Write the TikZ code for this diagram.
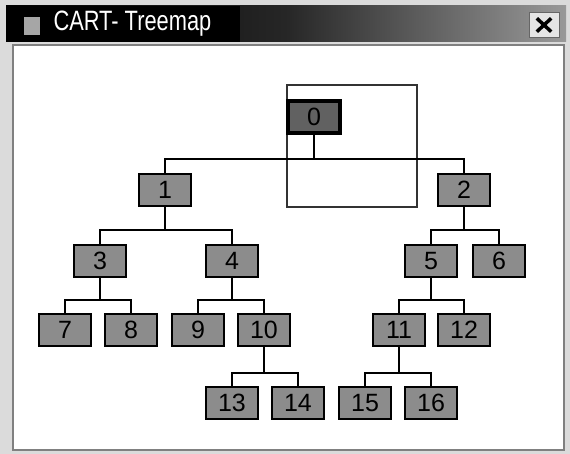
\documentclass[tikz,border=0pt]{standalone}
\usepackage{fontspec}
\setmainfont{Liberation Sans}
\newfontfamily\titlefont[FakeStretch=0.78]{Liberation Sans}
\begin{document}
\begin{tikzpicture}[x=1pt, y=-1pt,
    tmnode/.style={draw, line width=2.6pt, fill=black!45, minimum width=52pt, minimum height=32pt,
      inner sep=0pt, font=\fontsize{25}{26}\selectfont},
    rootnode/.style={tmnode, line width=4pt, fill=black!62},
    edge/.style={line width=2pt}]
  \useasboundingbox (0,0) rectangle (570,454);
  % window frame
  \fill[black!14] (0,0) rectangle (570,454);
  \fill[white, draw=black!50, line width=1.5pt] (13,45) rectangle (564,450);
  \shade[left color=black, right color=black!40, middle color=black!85] (6,6) rectangle (566,42);
  \fill[black] (6,6) rectangle (240,42);
  \fill[black!35] (24,17) rectangle (40,35);
  \node[anchor=west, text=white, font=\titlefont\fontsize{28}{29}\selectfont] (title) at (50,24) {CART- Treemap};
  \node[draw=black!60, fill=black!10, minimum width=30pt, minimum height=25pt, inner sep=0pt] (close) at (544,25) {};
  \draw[line width=3.5pt] ([shift={(8,6)}]close.north west) -- ([shift={(-8,-6)}]close.south east);
  \draw[line width=3.5pt] ([shift={(-8,6)}]close.north east) -- ([shift={(8,-6)}]close.south west);
  % treemap area of the root
  \draw[black!80, line width=1.8pt] (287,85) rectangle (417,207);
  % tree
  \node[rootnode] (n0) at (314,117) {0};
  \node[tmnode] (n1) at (165,190) {1};
  \node[tmnode] (n2) at (464,190) {2};
  \node[tmnode] (n3) at (100,261) {3};
  \node[tmnode] (n4) at (232,261) {4};
  \node[tmnode] (n5) at (431,261) {5};
  \node[tmnode] (n6) at (499,261) {6};
  \node[tmnode] (n7) at (65,330) {7};
  \node[tmnode] (n8) at (131,330) {8};
  \node[tmnode] (n9) at (198,330) {9};
  \node[tmnode] (n10) at (264,330) {10};
  \node[tmnode] (n11) at (399,330) {11};
  \node[tmnode] (n12) at (464,330) {12};
  \node[tmnode] (n13) at (232,403) {13};
  \node[tmnode] (n14) at (298,403) {14};
  \node[tmnode] (n15) at (365,403) {15};
  \node[tmnode] (n16) at (431,403) {16};
  % branching points
  \coordinate (b0) at (314,159);
  \coordinate (b1) at (165,230);
  \coordinate (b2) at (464,230);
  \coordinate (b3) at (100,300);
  \coordinate (b4) at (232,300);
  \coordinate (b5) at (431,300);
  \coordinate (b10) at (264,373);
  \coordinate (b11) at (399,373);
  \foreach \p/\a/\b in {0/1/2, 1/3/4, 2/5/6, 3/7/8, 4/9/10, 5/11/12, 10/13/14, 11/15/16}{
    \draw[edge] (n\p.south) -- (b\p) -| (n\a.north);
    \draw[edge] (b\p) -| (n\b.north);
  }
\end{tikzpicture}
\end{document}
